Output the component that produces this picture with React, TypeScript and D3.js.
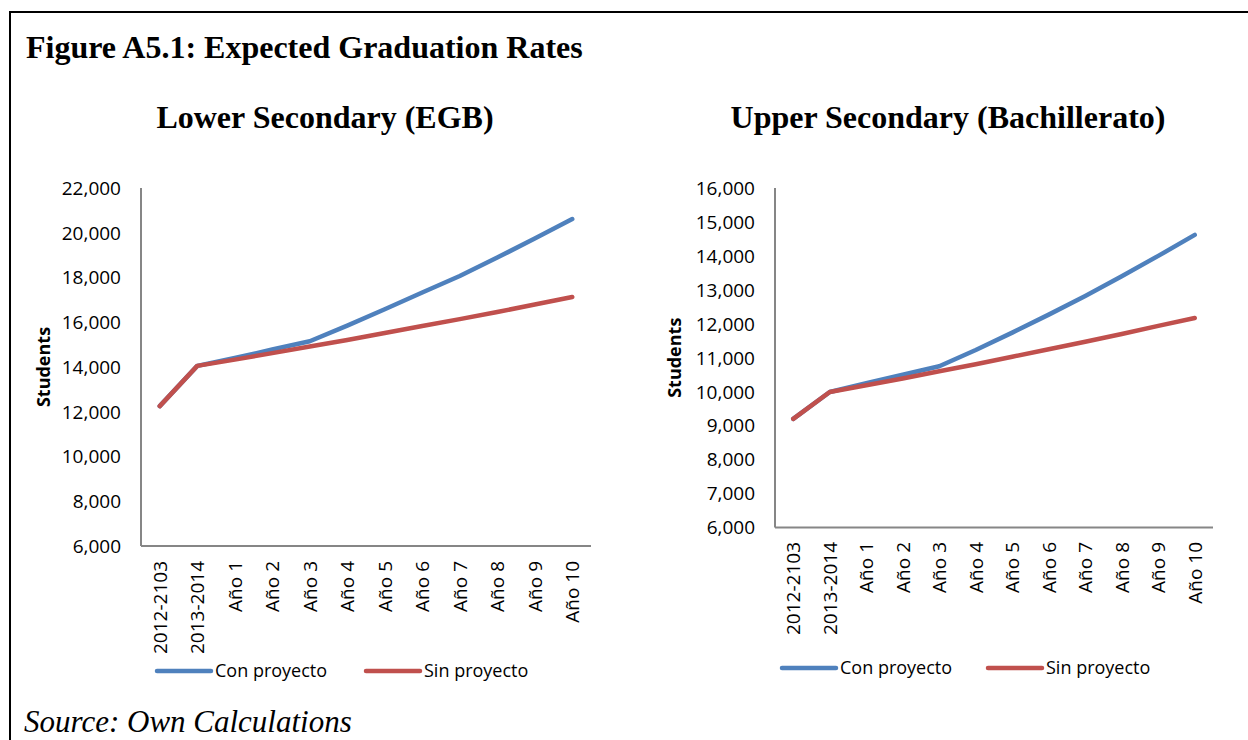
import React from "react";
import * as d3 from "d3";

const categories = ["2012-2103", "2013-2014", "Año 1", "Año 2", "Año 3", "Año 4", "Año 5", "Año 6", "Año 7", "Año 8", "Año 9", "Año 10"];

const lowerCon = [12250, 14050, 14400, 14780, 15150, 15850, 16580, 17330, 18070, 18890, 19740, 20610];
const lowerSin = [12250, 14050, 14330, 14620, 14920, 15210, 15520, 15830, 16140, 16460, 16790, 17130];
const lowerTicks = [6000, 8000, 10000, 12000, 14000, 16000, 18000, 20000, 22000];

const upperCon = [9200, 9990, 10250, 10500, 10750, 11230, 11740, 12270, 12820, 13400, 14000, 14620];
const upperSin = [9200, 9990, 10190, 10390, 10600, 10810, 11030, 11250, 11470, 11700, 11940, 12170];
const upperTicks = [6000, 7000, 8000, 9000, 10000, 11000, 12000, 13000, 14000, 15000, 16000];

const seriesNames = ["Con proyecto", "Sin proyecto"];
const seriesColors = ["#4F81BD", "#C0504D"];

const SANS = "'Open Sans', 'Noto Sans', sans-serif";
const SERIF = "'Liberation Serif', 'Times New Roman', serif";
const fmt = d3.format(",");

type PanelProps = {
  title: string;
  titleX: number;
  x0: number;
  x1: number;
  yTop: number;
  yBottom: number;
  ticks: number[];
  con: number[];
  sin: number[];
  studentsX: number;
  xLabelY: number;
  legendY: number;
  legendX: [number, number];
};

function Panel(p: PanelProps) {
  const x = d3.scaleBand<string>().domain(categories).range([p.x0, p.x1]);
  const cx = (c: string) => (x(c) as number) + x.bandwidth() / 2;
  const y = d3
    .scaleLinear()
    .domain([p.ticks[0], p.ticks[p.ticks.length - 1]])
    .range([p.yBottom, p.yTop]);
  const line = d3
    .line<number>()
    .x((_, i) => cx(categories[i]))
    .y((v) => y(v));
  const data = [p.con, p.sin];
  return (
    <g>
      <text x={p.titleX} y={128} textAnchor="middle" fontFamily={SERIF} fontWeight="bold" fontSize={32}>
        {p.title}
      </text>
      {p.ticks.map((t) => (
        <text key={t} x={p.x0 - 20} y={y(t)} dy="0.36em" textAnchor="end" fontFamily={SANS} fontSize={19} fill="#000">
          {fmt(t)}
        </text>
      ))}
      <text
        transform={`translate(${p.studentsX},${(p.yTop + p.yBottom) / 2}) rotate(-90)`}
        textAnchor="middle"
        dy="0.35em"
        fontFamily={SANS}
        fontWeight="bold"
        fontSize={18}
      >
        Students
      </text>
      <line x1={p.x0} x2={p.x0} y1={p.yTop} y2={p.yBottom} stroke="#868686" strokeWidth={2} />
      <line x1={p.x0} x2={p.x1} y1={p.yBottom} y2={p.yBottom} stroke="#868686" strokeWidth={2} />
      {categories.map((c) => (
        <text
          key={c}
          transform={`translate(${cx(c)},${p.xLabelY}) rotate(-90)`}
          textAnchor="end"
          dy="0.36em"
          fontFamily={SANS}
          fontSize={19}
        >
          {c}
        </text>
      ))}
      {data.map((d, i) => (
        <path
          key={i}
          d={line(d) as string}
          fill="none"
          stroke={seriesColors[i]}
          strokeWidth={4.5}
          strokeLinecap="round"
          strokeLinejoin="round"
        />
      ))}
      {seriesNames.map((n, i) => (
        <g key={n}>
          <line
            x1={p.legendX[i]}
            x2={p.legendX[i] + 54}
            y1={p.legendY}
            y2={p.legendY}
            stroke={seriesColors[i]}
            strokeWidth={4.5}
            strokeLinecap="round"
          />
          <text x={p.legendX[i] + 58} y={p.legendY} dy="0.36em" fontFamily={SANS} fontSize={18}>
            {n}
          </text>
        </g>
      ))}
    </g>
  );
}

export default function App() {
  return (
    <svg
      width={1248}
      height={740}
      style={{ position: "absolute", left: 0, top: 0, display: "block", background: "#fff" }}
    >
      <rect x={0} y={0} width={1248} height={740} fill="#fff" />
      <rect x={10} y={12} width={1260} height={760} fill="none" stroke="#000" strokeWidth={2} />
      <text x={26} y={58} fontFamily={SERIF} fontWeight="bold" fontSize={32}>
        Figure A5.1: Expected Graduation Rates
      </text>
      <Panel
        title="Lower Secondary (EGB)"
        titleX={325}
        x0={141}
        x1={591}
        yTop={188}
        yBottom={546}
        ticks={lowerTicks}
        con={lowerCon}
        sin={lowerSin}
        studentsX={44}
        xLabelY={561}
        legendY={671}
        legendX={[157, 366]}
      />
      <Panel
        title="Upper Secondary (Bachillerato)"
        titleX={948}
        x0={775}
        x1={1213}
        yTop={188}
        yBottom={527.5}
        ticks={upperTicks}
        con={upperCon}
        sin={upperSin}
        studentsX={675}
        xLabelY={542}
        legendY={668}
        legendX={[782, 988]}
      />
      <text x={24} y={732} fontFamily={SERIF} fontStyle="italic" fontSize={31}>
        Source: Own Calculations
      </text>
    </svg>
  );
}
